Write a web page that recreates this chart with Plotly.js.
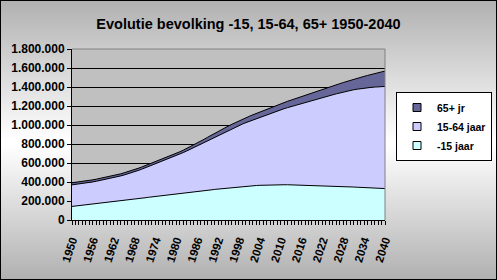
<!DOCTYPE html>
<html>
<head>
<meta charset="utf-8">
<script src="https://cdn.plot.ly/plotly-3.0.1.min.js"></script>
<style>
  html, body { margin: 0; padding: 0; background: #ffffff; }
  #chart {
    width: 497px; height: 280px; position: relative;
    background: linear-gradient(to bottom, #b0b0b0 0%, #ffffff 50%, #ffffff 52%, #b0b0b0 100%);
  }
  #frame {
    position: absolute; left: 0; top: 0; width: 497px; height: 280px;
    box-sizing: border-box; border: 1px solid #000; pointer-events: none;
  }
</style>
</head>
<body>
<div id="chart"></div>
<script>
// Years 1950..2040
const years = [
  1950,1951,1952,1953,1954,1955,1956,1957,1958,1959,
  1960,1961,1962,1963,1964,1965,1966,1967,1968,1969,
  1970,1971,1972,1973,1974,1975,1976,1977,1978,1979,
  1980,1981,1982,1983,1984,1985,1986,1987,1988,1989,
  1990,1991,1992,1993,1994,1995,1996,1997,1998,1999,
  2000,2001,2002,2003,2004,2005,2006,2007,2008,2009,
  2010,2011,2012,2013,2014,2015,2016,2017,2018,2019,
  2020,2021,2022,2023,2024,2025,2026,2027,2028,2029,
  2030,2031,2032,2033,2034,2035,2036,2037,2038,2039,
  2040
];

// Population per age group, in thousands
const under15K = [
  143,147,151,156,160,164,169,173,178,182,
  186,191,195,199,204,208,212,217,221,226,
  230,234,239,243,247,252,256,260,265,269,
  274,278,282,287,291,295,300,304,309,313,
  317,322,326,330,334,338,342,346,349,352,
  355,358,361,363,365,367,368,369,370,370,
  371,371,371,370,370,369,368,366,364,362,
  360,359,358,357,356,355,354,353,351,350,
  348,347,345,344,342,341,339,337,335,333,
  331
];

const age15to64K = [
  227,227,227,227,228,230,232,235,237,240,
  243,246,250,255,260,266,272,279,287,295,
  304,314,323,333,343,353,363,373,382,393,
  402,415,428,440,454,468,480,494,507,522,
  537,551,566,580,593,606,619,632,645,658,
  670,681,692,704,716,728,740,752,764,777,
  789,801,812,824,835,847,859,872,884,896,
  908,919,930,941,952,963,974,985,996,1006,
  1016,1024,1032,1039,1046,1051,1057,1062,1067,1071,
  1075
];

const over65K = [
  22,22,22,22,22,22,22,22,22,22,
  22,22,22,22,22,23,23,23,23,23,
  23,23,23,23,23,24,24,24,24,24,
  24,25,25,26,27,28,30,32,34,36,
  38,40,42,44,45,46,47,48,49,51,
  52,53,54,55,56,57,58,59,60,62,
  64,65,67,68,70,72,74,76,78,80,
  82,84,86,88,90,93,95,97,100,103,
  106,110,114,119,124,130,136,142,148,155,
  162
];

const seriesNames = ['-15 jaar', '15-64 jaar', '65+ jr'];
const seriesColors = ['#ccffff', '#ccccff', '#666699'];
const unit = 1000;

const seriesValues = [under15K, age15to64K, over65K].map(a => a.map(v => v * unit));

const traces = [];
seriesValues.forEach((vals, i) => {
  traces.push({
    type: 'scatter',
    mode: 'lines',
    x: years,
    y: vals,
    stackgroup: 'pop',
    fillcolor: seriesColors[i],
    line: { color: '#000000', width: 1, shape: 'linear' },
    name: seriesNames[i],
    showlegend: false,
    hoverinfo: 'skip'
  });
});
// legend entries (small squares like the original)
seriesNames.forEach((n, i) => {
  traces.push({
    type: 'scatter',
    mode: 'markers',
    x: [null],
    y: [null],
    name: n,
    marker: { symbol: 'square', size: 8, color: seriesColors[i], line: { color: '#000000', width: 1 } },
    showlegend: true
  });
});

const baseFont = 'Arial, "Liberation Sans", Helvetica, sans-serif';

const layout = {
  width: 497,
  height: 280,
  paper_bgcolor: 'rgba(0,0,0,0)',
  plot_bgcolor: '#c0c0c0',
  separators: ',.',
  margin: { l: 72, r: 112, t: 49, b: 60, pad: 0, autoexpand: false },
  font: { family: baseFont, size: 11, color: '#000000' },
  title: {
    text: 'Evolutie bevolking -15, 15-64, 65+ 1950-2040',
    font: { family: baseFont, size: 14.5, color: '#000000', weight: 'bold' },
    x: 0.5, xanchor: 'center', xref: 'container',
    y: 1 - 24 / 280, yanchor: 'middle', yref: 'container'
  },
  xaxis: {
    type: 'linear',
    range: [1950, 2040],
    tick0: 1950,
    dtick: 6,
    tickangle: -72,
    ticks: 'outside',
    ticklen: 4,
    tickwidth: 1,
    tickcolor: '#000000',
    ticklabelstandoff: 4,
    minor: { dtick: 1, tick0: 1950, ticks: 'outside', ticklen: 4, tickwidth: 1, tickcolor: '#000000', showgrid: false },
    showgrid: false,
    zeroline: false,
    showline: true,
    linecolor: '#000000',
    linewidth: 1,
    tickfont: { family: baseFont, size: 11.5, color: '#000000', weight: 'bold' },
    fixedrange: true
  },
  yaxis: {
    range: [0, 1800000],
    dtick: 200000,
    tick0: 0,
    tickformat: ',d',
    ticks: 'outside',
    ticklen: 4,
    tickwidth: 1,
    tickcolor: '#000000',
    showgrid: true,
    gridcolor: '#000000',
    gridwidth: 1,
    zeroline: false,
    showline: true,
    linecolor: '#000000',
    linewidth: 1,
    tickfont: { family: baseFont, size: 12, color: '#000000', weight: 'bold' },
    fixedrange: true
  },
  shapes: [
    { type: 'line', xref: 'paper', yref: 'paper', x0: 0, x1: 1, y0: 1, y1: 1, line: { color: '#808080', width: 1 }, layer: 'above' },
    { type: 'line', xref: 'paper', yref: 'paper', x0: 1, x1: 1, y0: 0, y1: 1, line: { color: '#808080', width: 1 }, layer: 'above' }
  ],
  showlegend: true,
  legend: {
    x: (396 - 72) / 313,
    xanchor: 'left',
    y: (220 - 92) / 171,
    yanchor: 'top',
    bgcolor: '#ffffff',
    bordercolor: '#000000',
    borderwidth: 1,
    traceorder: 'reversed',
    itemwidth: 30,
    font: { family: baseFont, size: 10.5, color: '#000000', weight: 'bold' }
  }
};

Plotly.newPlot('chart', traces, layout, { displayModeBar: false, staticPlot: true }).then(() => {
  const f = document.createElement('div');
  f.id = 'frame';
  document.getElementById('chart').appendChild(f);
});
</script>
</body>
</html>
